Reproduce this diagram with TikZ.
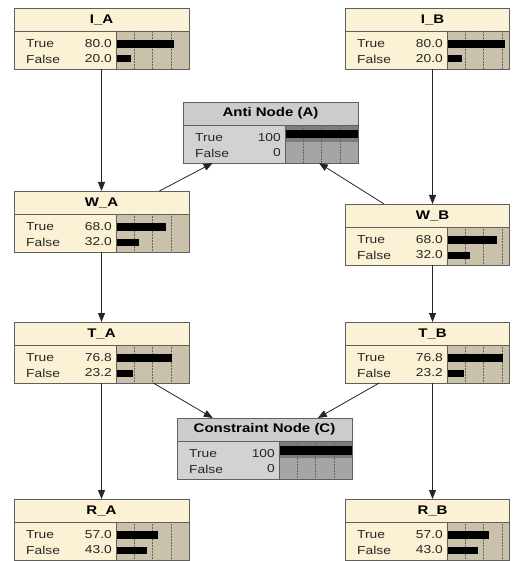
\documentclass[tikz,border=0pt]{standalone}
\usepackage{fontspec}
\setmainfont{Liberation Sans}[FakeStretch=1.2]
\usetikzlibrary{arrows.meta}
\definecolor{cream}{RGB}{251,241,212}
\definecolor{tanbar}{RGB}{201,193,170}
\definecolor{bord}{RGB}{95,95,95}
\definecolor{gtitle}{RGB}{204,204,204}
\definecolor{gbody}{RGB}{210,210,210}
\definecolor{gbar}{RGB}{165,165,165}
\definecolor{gband}{RGB}{125,125,125}
\tikzset{
  hit/.style={rectangle,minimum width=175pt,minimum height=61pt,inner sep=0pt,outer sep=0pt},
  boxline/.style={draw=bord,line width=0.8pt},
  gridl/.style={draw=black!60,densely dotted,line width=0.5pt},
  ttl/.style={font=\fontsize{12.5}{14}\selectfont\bfseries,inner sep=0pt},
  lbl/.style={font=\fontsize{11.5}{13}\selectfont,inner sep=0pt,text=black!85},
  edge/.style={draw=black!85,line width=0.8pt,-{Triangle[length=9pt,width=7pt]}}
}
% name, x, y, title, v1, v2, p1, p2, visible width
\newcommand\creamnode[9]{%
  \node[hit,anchor=north west] (#1) at (#2,#3) {};
  \begin{scope}[shift={(#2,#3)}]
    \begin{scope}
      \clip (0,0) rectangle (#9,61);
      \fill[cream] (0,0) rectangle (175,61);
      \fill[tanbar] (102,23) rectangle (175,61);
      \foreach \k in {1,2,3} \draw[gridl] ({102+18.25*\k},23) -- ++(0,38);
      \fill[black] (102,32) rectangle ({102+0.73*#7},40);
      \fill[black] (102,47.5) rectangle ({102+0.73*#8},54.5);
    \end{scope}
    \draw[boxline] (0,0) rectangle (#9,61);
    \draw[boxline] (0,23) -- (#9,23);
    \draw[bord,line width=0.6pt] (102,23) -- (102,61);
    \node[ttl] at (87.5,11.5) {#4};
    \node[lbl,anchor=west] at (12,35.5) {True};
    \node[lbl,anchor=east] at (98,35.5) {#5};
    \node[lbl,anchor=west] at (12,51) {False};
    \node[lbl,anchor=east] at (98,51) {#6};
  \end{scope}
}
% name, x, y, title
\newcommand\greynode[4]{%
  \node[hit,anchor=north west] (#1) at (#2,#3) {};
  \begin{scope}[shift={(#2,#3)}]
    \fill[gtitle] (0,0) rectangle (175,23);
    \fill[gbody] (0,23) rectangle (102,61);
    \fill[gbar] (102,23) rectangle (175,61);
    \fill[gband] (102,23) rectangle (175,40);
    \foreach \k in {1,2,3} \draw[gridl] ({102+18.25*\k},23) -- ++(0,38);
    \fill[black] (102,28) rectangle (175,36.5);
    \draw[boxline] (0,0) rectangle (175,61);
    \draw[boxline] (0,23) -- (175,23);
    \draw[bord,line width=0.6pt] (102,23) -- (102,61);
    \node[ttl] at (87.5,11.5) {#4};
    \node[lbl,anchor=west] at (12,35.5) {True};
    \node[lbl,anchor=east] at (98,35.5) {100};
    \node[lbl,anchor=west] at (12,51) {False};
    \node[lbl,anchor=east] at (98,51) {0};
  \end{scope}
}
\begin{document}
\begin{tikzpicture}[x=1pt,y=-1pt]
\useasboundingbox (0,0) rectangle (517,561);
\fill[white] (0,0) rectangle (517,561);
\creamnode{IA}{14}{8}{I\_A}{80.0}{20.0}{80}{20}{175}
\creamnode{IB}{345}{8}{I\_B}{80.0}{20.0}{80}{20}{164}
\greynode{AN}{183}{102}{Anti Node (A)}
\creamnode{WA}{14}{191}{W\_A}{68.0}{32.0}{68}{32}{175}
\creamnode{WB}{345}{204}{W\_B}{68.0}{32.0}{68}{32}{164}
\creamnode{TA}{14}{322}{T\_A}{76.8}{23.2}{76.8}{23.2}{175}
\creamnode{TB}{345}{322}{T\_B}{76.8}{23.2}{76.8}{23.2}{164}
\greynode{CN}{177}{418}{Constraint Node (C)}
\creamnode{RA}{14}{499}{R\_A}{57.0}{43.0}{57}{43}{175}
\creamnode{RB}{345}{499}{R\_B}{57.0}{43.0}{57}{43}{164}
\draw[edge] (IA) -- (WA);
\draw[edge] (IB) -- (WB);
\draw[edge] (WA) -- (AN);
\draw[edge] (WB) -- (AN);
\draw[edge] (WA) -- (TA);
\draw[edge] (WB) -- (TB);
\draw[edge] (TA) -- (CN);
\draw[edge] (TB) -- (CN);
\draw[edge] (TA) -- (RA);
\draw[edge] (TB) -- (RB);
\end{tikzpicture}
\end{document}
